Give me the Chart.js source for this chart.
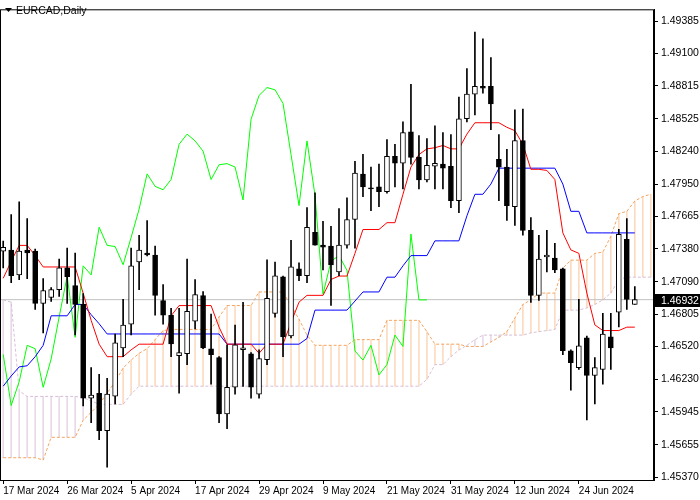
<!DOCTYPE html>
<html>
<head>
<meta charset="utf-8">
<script src="https://cdn.jsdelivr.net/npm/chart.js@4.4.1/dist/chart.umd.min.js"></script>
<style>
html, body { margin: 0; padding: 0; background: #fff; }
#wrap { width: 700px; height: 500px; }
</style>
</head>
<body>
<div id="wrap"><canvas id="c" width="700" height="500"></canvas></div>
<script>
// Données EURCAD Daily
const dateLabels = ['17 Mar 2024', '26 Mar 2024', '5 Apr 2024', '17 Apr 2024', '29 Apr 2024',
    '9 May 2024', '21 May 2024', '31 May 2024', '12 Jun 2024', '24 Jun 2024'];
const priceTicks = [1.49385, 1.49100, 1.48815, 1.48525, 1.48240, 1.47950, 1.47665, 1.47380,
    1.47090, 1.46805, 1.46520, 1.46230, 1.45945, 1.45655, 1.45370];
const lastPrice = 1.46932;

const opens = [1.47360, 1.47369, 1.47151, 1.47369, 1.47360, 1.46899, 1.46951, 1.47021, 1.47212, 1.47056,
    1.46890, 1.46065, 1.46108, 1.45778, 1.46082, 1.46508, 1.46717, 1.47264, 1.47343, 1.47325,
    1.46925, 1.46795, 1.46439, 1.46456, 1.46743, 1.46969, 1.46500, 1.46421, 1.45926, 1.46161,
    1.46491, 1.46456, 1.46100, 1.46404, 1.46812, 1.47134, 1.46613, 1.47203, 1.47143, 1.47525,
    1.47412, 1.47403, 1.47177, 1.47412, 1.47638, 1.48037, 1.47916, 1.47925, 1.47882, 1.48194,
    1.48133, 1.48411, 1.48185, 1.47986, 1.48107, 1.48125, 1.48107, 1.47803, 1.48525, 1.48742,
    1.48811, 1.48811, 1.48168, 1.48099, 1.47751, 1.48333, 1.47542, 1.46969, 1.47308, 1.47299,
    1.47203, 1.46482, 1.46334, 1.46595, 1.46265, 1.46317, 1.46604, 1.46821, 1.47464, 1.46890];
const highs = [1.47447, 1.47681, 1.47794, 1.47646, 1.47377, 1.47117, 1.47038, 1.47290, 1.47386, 1.47343,
    1.46986, 1.46334, 1.46274, 1.46239, 1.46630, 1.46934, 1.47386, 1.47499, 1.47629, 1.47403,
    1.47064, 1.46856, 1.46856, 1.47290, 1.47108, 1.47004, 1.46804, 1.46430, 1.46534, 1.46708,
    1.46908, 1.46465, 1.46491, 1.47282, 1.47264, 1.47140, 1.47455, 1.47256, 1.47742, 1.47873,
    1.47621, 1.47577, 1.47734, 1.47829, 1.48150, 1.48211, 1.48099, 1.48125, 1.48342, 1.48299,
    1.48498, 1.48828, 1.48377, 1.48351, 1.48463, 1.48403, 1.48385, 1.48716, 1.48968, 1.49289,
    1.49228, 1.49063, 1.48385, 1.48255, 1.48603, 1.48611, 1.47655, 1.47499, 1.47542, 1.47429,
    1.47210, 1.46490, 1.46934, 1.46612, 1.46421, 1.46812, 1.46812, 1.47551, 1.47646, 1.47047];
const lows = [1.47212, 1.47082, 1.47108, 1.47117, 1.46847, 1.46639, 1.46917, 1.46960, 1.46899, 1.46621,
    1.45996, 1.45848, 1.45700, 1.45457, 1.46013, 1.46430, 1.46621, 1.47021, 1.47317, 1.46795,
    1.46717, 1.46430, 1.46108, 1.46360, 1.46674, 1.46500, 1.46187, 1.45848, 1.45796, 1.46100,
    1.46169, 1.46065, 1.46065, 1.46360, 1.46778, 1.46430, 1.46595, 1.47099, 1.47082, 1.47412,
    1.47195, 1.46882, 1.47143, 1.47386, 1.47386, 1.47838, 1.47716, 1.47751, 1.47870, 1.47925,
    1.47908, 1.48125, 1.47908, 1.47968, 1.47908, 1.47908, 1.47742, 1.47699, 1.48498, 1.48559,
    1.48750, 1.48429, 1.47803, 1.47629, 1.47586, 1.47499, 1.46908, 1.46925, 1.47177, 1.47169,
    1.46447, 1.46134, 1.46317, 1.45874, 1.46013, 1.46187, 1.46317, 1.46691, 1.46847, 1.46890];
const closes = [1.47394, 1.47143, 1.47360, 1.47343, 1.46899, 1.47013, 1.47021, 1.47212, 1.47134, 1.46890,
    1.46065, 1.46091, 1.45778, 1.46100, 1.46552, 1.46708, 1.47230, 1.47369, 1.47325, 1.46969,
    1.46795, 1.46543, 1.46465, 1.46830, 1.46977, 1.46508, 1.46447, 1.45926, 1.46161, 1.46534,
    1.46508, 1.46161, 1.46413, 1.46943, 1.47143, 1.46604, 1.47221, 1.47143, 1.47569, 1.47412,
    1.47394, 1.47238, 1.47412, 1.47638, 1.48046, 1.47925, 1.47908, 1.47882, 1.48194, 1.48133,
    1.48403, 1.48185, 1.47986, 1.48116, 1.48133, 1.48090, 1.47803, 1.48525, 1.48742, 1.48811,
    1.48794, 1.48655, 1.48099, 1.47760, 1.48333, 1.47542, 1.46969, 1.47290, 1.47325, 1.47195,
    1.46482, 1.46378, 1.46526, 1.46265, 1.46334, 1.46630, 1.46508, 1.47508, 1.46934, 1.46932];

// Ichimoku
const tenkan = [1.4712, 1.4727, 1.4741, 1.4741, 1.4732, 1.4722, 1.4722, 1.4722, 1.4722, 1.4722,
    1.4699, 1.4675, 1.4654, 1.4643, 1.4643, 1.4643, 1.4649, 1.4654, 1.4654, 1.4654,
    1.4654, 1.4679, 1.4688, 1.4688, 1.4688, 1.4688, 1.4688, 1.4669, 1.4654, 1.4654,
    1.4654, 1.4654, 1.4646, 1.4654, 1.4654, 1.4654, 1.4673, 1.4691, 1.4697, 1.4697,
    1.4697, 1.4711, 1.4714, 1.4714, 1.4734, 1.4755, 1.4755, 1.4755, 1.4761, 1.4761,
    1.4786, 1.4810, 1.4821, 1.4826, 1.4827, 1.4829, 1.4826, 1.4826, 1.4839, 1.4849,
    1.4849, 1.4849, 1.4849, 1.4845, 1.4842, 1.4830, 1.4808, 1.4808, 1.4807, 1.4799,
    1.4752, 1.4737, 1.4734, 1.4699, 1.4671, 1.4666, 1.4666, 1.4666, 1.4669, 1.4669];
const kijun = [1.4617, 1.4626, 1.4634, 1.4635, 1.4643, 1.4653, 1.4679, 1.4679, 1.4679, 1.4689,
    1.4689, 1.4680, 1.4672, 1.4663, 1.4663, 1.4663, 1.4663, 1.4663, 1.4663, 1.4663,
    1.4663, 1.4663, 1.4663, 1.4663, 1.4663, 1.4663, 1.4663, 1.4663, 1.4654, 1.4654,
    1.4654, 1.4654, 1.4654, 1.4654, 1.4654, 1.4654, 1.4654, 1.4654, 1.4659, 1.4684,
    1.4684, 1.4684, 1.4684, 1.4684, 1.4692, 1.4700, 1.4700, 1.4700, 1.4713, 1.4713,
    1.4723, 1.4732, 1.4732, 1.4732, 1.4745, 1.4745, 1.4745, 1.4745, 1.4767, 1.4786,
    1.4786, 1.4795, 1.4809, 1.4809, 1.4809, 1.4809, 1.4809, 1.4809, 1.4809, 1.4809,
    1.4795, 1.4771, 1.4771, 1.4752, 1.4752, 1.4752, 1.4752, 1.4752, 1.4752, 1.4752];
const chikou = [1.4645, 1.4600, 1.4621, 1.4653, 1.4650, 1.4616, 1.4641, 1.4678, 1.4714, 1.4660,
    1.4723, 1.4715, 1.4757, 1.4741, 1.4740, 1.4724, 1.4748, 1.4773, 1.4804, 1.4793,
    1.4790, 1.4799, 1.4830, 1.4839, 1.4833, 1.4824, 1.4799, 1.4812, 1.4813, 1.4810,
    1.4781, 1.4852, 1.4873, 1.4880, 1.4878, 1.4866, 1.4821, 1.4776, 1.4833, 1.4785,
    1.4698, 1.4727, 1.4732, 1.4719, 1.4648, 1.4640, 1.4653, 1.4627, 1.4636, 1.4662,
    1.4652, 1.4751, 1.4693, 1.4693];
const senkouA = [1.4554, 1.4554, 1.4554, 1.4554, 1.4554, 1.4552, 1.4572, 1.4572, 1.4572, 1.4572,
    1.4587, 1.4594, 1.4601, 1.4611, 1.4621, 1.4633, 1.4640, 1.4646, 1.4650, 1.4658,
    1.4666, 1.4667, 1.4667, 1.4667, 1.4667, 1.4667, 1.4667, 1.4678, 1.4688, 1.4688,
    1.4688, 1.4688, 1.4700, 1.4700, 1.4700, 1.4700, 1.4688, 1.4676, 1.4662, 1.4653,
    1.4653, 1.4653, 1.4653, 1.4653, 1.4658, 1.4658, 1.4658, 1.4658, 1.4675, 1.4675,
    1.4675, 1.4675, 1.4675, 1.4665, 1.4654, 1.4654, 1.4654, 1.4654, 1.4652, 1.4652,
    1.4652, 1.4656, 1.4660, 1.4665, 1.4677, 1.4689, 1.4693, 1.4699, 1.4699, 1.4699,
    1.4721, 1.4728, 1.4728, 1.4728, 1.4734, 1.4735, 1.4749, 1.4769, 1.4771, 1.4780,
    1.4784, 1.4786];
const senkouB = [1.4693, 1.4691, 1.4613, 1.4608, 1.4608, 1.4608, 1.4608, 1.4608, 1.4608, 1.4608,
    1.4607, 1.4604, 1.4601, 1.4601, 1.4601, 1.4601, 1.4610, 1.4617, 1.4617, 1.4617,
    1.4617, 1.4617, 1.4617, 1.4617, 1.4617, 1.4617, 1.4617, 1.4617, 1.4617, 1.4617,
    1.4617, 1.4617, 1.4617, 1.4617, 1.4617, 1.4617, 1.4617, 1.4617, 1.4617, 1.4617,
    1.4617, 1.4617, 1.4617, 1.4617, 1.4617, 1.4617, 1.4617, 1.4617, 1.4617, 1.4617,
    1.4617, 1.4617, 1.4617, 1.4623, 1.4636, 1.4636, 1.4643, 1.4649, 1.4653, 1.4658,
    1.4662, 1.4662, 1.4662, 1.4662, 1.4662, 1.4662, 1.4664, 1.4665, 1.4666, 1.4667,
    1.4684, 1.4684, 1.4684, 1.4686, 1.4689, 1.4693, 1.4699, 1.4711, 1.4713, 1.4713,
    1.4713, 1.4713];

const pts = arr => arr.map((v, i) => ({ x: i, y: v }));
const bodies = opens.map((o, i) => ({ x: i, y: [o, closes[i]] }));
const wicks = highs.map((h, i) => ({ x: i, y: [lows[i], h] }));
const bodyColors = opens.map((o, i) => closes[i] >= o ? '#ffffff' : '#000000');
// nuage : bandes verticales entre les deux Senkou
const cloudBars = senkouA.map((a, i) => ({ x: i, y: [a, senkouB[i]] }));
const cloudColors = senkouA.map((a, i) => a >= senkouB[i] ? 'rgba(244,164,96,0.4)' : 'rgba(216,191,216,0.6)');

const FONT = 'Liberation Sans';

// Cadre, titre et étiquette du prix
const decorPlugin = {
    id: 'decor',
    afterDraw(chart) {
        const ctx = chart.ctx;
        const a = chart.chartArea;
        const yS = chart.scales.y;
        ctx.save();
        ctx.strokeStyle = '#000';
        ctx.lineWidth = 1;
        ctx.strokeRect(a.left + 0.5, a.top + 0.5, a.right - a.left - 1, a.bottom - a.top);
        // étiquette du dernier prix
        const py = Math.round(yS.getPixelForValue(lastPrice));
        ctx.fillStyle = '#000';
        ctx.fillRect(a.right + 1, py - 6, 46, 13);
        ctx.fillStyle = '#fff';
        ctx.font = '10.5px "' + FONT + '"';
        ctx.textBaseline = 'middle';
        ctx.fillText(lastPrice.toFixed(5), a.right + 7, py + 1);
        // titre
        ctx.fillStyle = '#000';
        ctx.beginPath();
        ctx.moveTo(5, 8); ctx.lineTo(12, 8); ctx.lineTo(8.5, 12); ctx.closePath();
        ctx.fill();
        ctx.fillText('EURCAD,Daily', 16, 11);
        ctx.restore();
    }
};

new Chart(document.getElementById('c'), {
    data: {
        datasets: [
            { type: 'bar', order: 9, data: cloudBars, backgroundColor: cloudColors, barThickness: 1, grouped: false },
            { type: 'line', order: 8, data: pts(senkouA), borderColor: '#f4a460', borderWidth: 1, borderDash: [3, 2], pointRadius: 0 },
            { type: 'line', order: 7, data: pts(senkouB), borderColor: '#d8bfd8', borderWidth: 1, borderDash: [3, 2], pointRadius: 0 },
            { type: 'line', order: 6, data: [{ x: -1, y: lastPrice }, { x: 82, y: lastPrice }], borderColor: '#c0c0c0', borderWidth: 1, pointRadius: 0 },
            { type: 'line', order: 5, data: pts(chikou), borderColor: '#00ff00', borderWidth: 1, pointRadius: 0 },
            { type: 'line', order: 4, data: pts(kijun), borderColor: '#0000ff', borderWidth: 1, pointRadius: 0 },
            { type: 'line', order: 3, data: pts(tenkan), borderColor: '#ff0000', borderWidth: 1, pointRadius: 0 },
            { type: 'bar', order: 2, data: wicks, backgroundColor: '#000', barThickness: 1, grouped: false },
            { type: 'bar', order: 1, data: bodies, backgroundColor: bodyColors, borderColor: '#000', borderWidth: 1,
              borderSkipped: false, barThickness: 5, grouped: false }
        ]
    },
    options: {
        responsive: false,
        animation: false,
        devicePixelRatio: 1,
        layout: { padding: { top: 3, left: 0, right: 0, bottom: 0 } },
        plugins: { legend: { display: false }, tooltip: { enabled: false } },
        scales: {
            x: {
                type: 'linear', min: -0.4, max: 81.4, offset: false,
                afterBuildTicks: axis => { axis.ticks = dateLabels.map((d, i) => ({ value: i * 8 })); },
                afterFit: axis => { axis.height = 20; },
                grid: { drawOnChartArea: false, color: '#000', tickLength: 4, offset: false },
                border: { color: '#000' },
                ticks: { align: 'start', maxRotation: 0, autoSkip: false, padding: 1, color: '#000',
                         font: { family: FONT, size: 10 },
                         callback: v => dateLabels[v / 8] }
            },
            y: {
                position: 'right', min: 1.45344, max: 1.49489,
                afterBuildTicks: axis => { axis.ticks = priceTicks.map(v => ({ value: v })); },
                afterFit: axis => { axis.width = 46; },
                grid: { drawOnChartArea: false, color: '#000', tickLength: 4 },
                border: { color: '#000' },
                ticks: { color: '#000', padding: 3, font: { family: FONT, size: 10.5 },
                         callback: v => v.toFixed(5) }
            }
        }
    },
    plugins: [decorPlugin]
});
</script>
</body>
</html>
